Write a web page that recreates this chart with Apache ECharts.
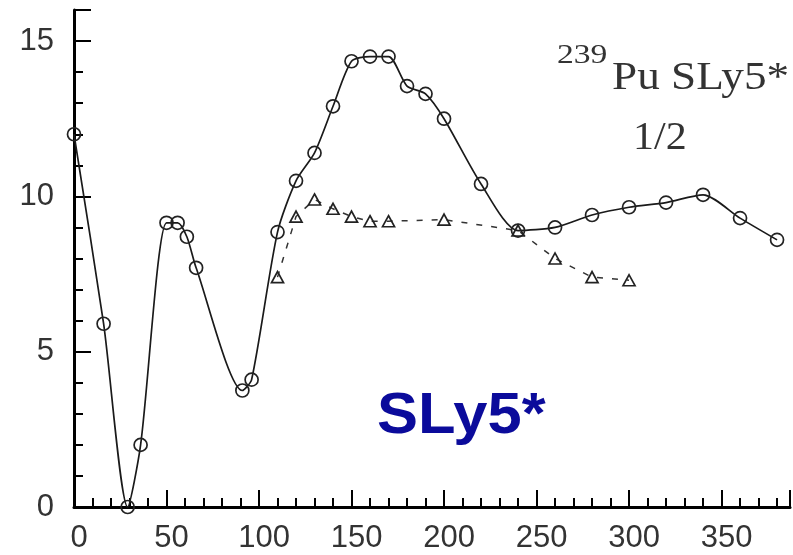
<!DOCTYPE html>
<html><head><meta charset="utf-8">
<script src="https://cdn.jsdelivr.net/npm/echarts@6/dist/echarts.min.js"></script>
<style>html,body{margin:0;padding:0;background:#fff}#c{width:793px;height:555px}</style>
</head><body><div id="c"></div>
<script>
const circleX = [0,16,29,36,50,56,61,66,91,96,110,120,130,140,150,160,170,180,190,200,220,240,260,280,300,320,340,360,380];
const circleY = [12.0,5.9,0.0,2.0,9.15,9.15,8.7,7.7,3.75,4.1,8.85,10.5,11.4,12.9,14.35,14.5,14.5,13.55,13.3,12.5,10.4,8.9,9.0,9.4,9.65,9.8,10.05,9.3,8.6];
const triX = [110,120,130,140,150,160,170,200,240,260,280,300];
const triY = [7.4,9.35,9.9,9.6,9.35,9.2,9.2,9.25,8.9,8.0,7.4,7.3];
const xTickLabels = [0,50,100,150,200,250,300,350];
const yTickLabels = [0,5,10,15];
const annotNucleus = '239';
const annotText = 'Pu SLy5*';
const annotSpin = '1/2';
const bigLabel = 'SLy5*';

const chart = echarts.init(document.getElementById('c'), null, {renderer:'canvas'});
const lineCol = '#1a1a1a';
const labelFont = {fontFamily:'Liberation Sans, Arial, sans-serif', fontSize:31, color:'#333'};
function minorAxis(extra){
  return Object.assign({
    type:'value', min:0,
    axisLine:{show:true, lineStyle:{color:'#000', width:3}},
    axisTick:{show:true, inside:true, length:9, lineStyle:{color:'#000', width:2}},
    axisLabel:{show:false}, splitLine:{show:false}
  }, extra);
}
function majorAxis(extra, labels, labelExtra){
  return Object.assign({
    type:'value', min:0,
    axisLine:{show:false},
    axisTick:{show:true, inside:true, length:17, lineStyle:{color:'#000', width:2}},
    axisLabel:Object.assign({show:true, formatter:v => labels.includes(v) ? String(v) : ''}, labelFont, labelExtra),
    splitLine:{show:false}
  }, extra);
}
const circleSym = 'path://M0,10A10,10,0,1,1,20,10A10,10,0,1,1,0,10Z';
const triSym = 'path://M10,0L20,17L0,17Z';
chart.setOption({
  animation:false,
  backgroundColor:'#fff',
  grid:{left:74, right:0, top:10, bottom:48, containLabel:false},
  xAxis:[
    minorAxis({max:387, interval:10, position:'bottom'}),
    majorAxis({max:387, interval:50, position:'bottom'}, xTickLabels, {margin:16, padding:[0,0,0,10]}),
  ],
  yAxis:[
    minorAxis({max:16, interval:1, position:'left'}),
    majorAxis({max:16, interval:5, position:'left'}, yTickLabels, {margin:20}),
  ],
  series:[
    {
      type:'line', xAxisIndex:0, yAxisIndex:0,
      data:circleX.map((x,i)=>[x,circleY[i]]),
      smooth:0.25,
      symbol:circleSym, symbolSize:13,
      lineStyle:{color:lineCol, width:1.7},
      itemStyle:{color:'rgba(0,0,0,0)', borderColor:'#222', borderWidth:1.7}
    },
    {
      type:'line', xAxisIndex:0, yAxisIndex:0,
      data:triX.map((x,i)=>[x,triY[i]]),
      symbol:triSym, symbolSize:[12,11],
      lineStyle:{color:'#333', width:1.5, type:[6,9]},
      itemStyle:{color:'rgba(0,0,0,0)', borderColor:'#222', borderWidth:1.7}
    }
  ],
  graphic:[
    {type:'text', x:377, y:388, scaleX:1.06, style:{text:bigLabel, font:'bold 58px "Liberation Sans", Arial, sans-serif', fill:'#0b0b9b'}},
    {type:'text', x:557, y:42, scaleX:1.2, style:{text:annotNucleus, font:'28px "Liberation Serif", "Times New Roman", serif', fill:'#333'}},
    {type:'text', x:612, y:58, scaleX:1.13, style:{text:annotText, font:'40px "Liberation Serif", "Times New Roman", serif', fill:'#333'}},
    {type:'text', x:633, y:118, scaleX:1.05, style:{text:annotSpin, font:'40px "Liberation Serif", "Times New Roman", serif', fill:'#333'}}
  ]
});
</script></body></html>
